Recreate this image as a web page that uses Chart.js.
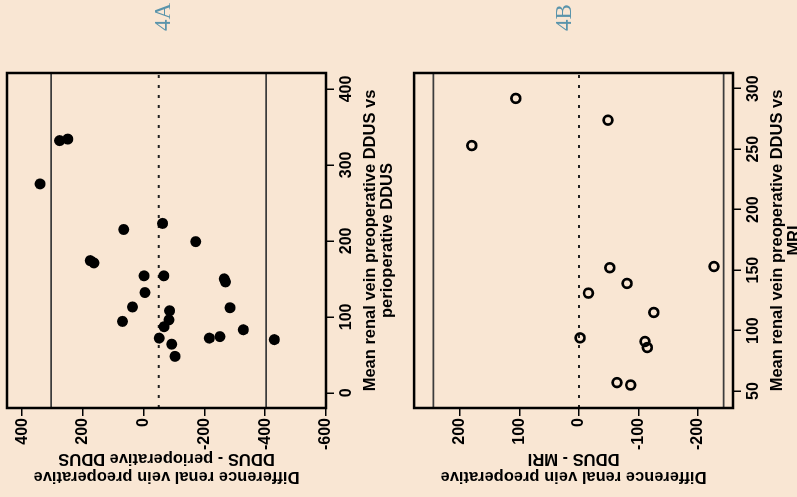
<!DOCTYPE html>
<html>
<head>
<meta charset="utf-8">
<script src="https://cdn.jsdelivr.net/npm/chart.js@4.4.0/dist/chart.umd.min.js"></script>
<style>
  html, body { margin: 0; padding: 0; width: 797px; height: 497px; overflow: hidden; background: #f9e6d3; }
  /* figure is laid out upright, then turned a quarter turn to the left */
  #page {
    position: absolute; left: 0; top: 0; width: 497px; height: 797px; overflow: hidden;
    transform-origin: 0 0; transform: translateY(497px) rotate(-90deg);
  }
  .panel { position: absolute; left: 0; width: 497px; height: 407px; }
  .tag {
    position: absolute; font-family: 'Liberation Serif', 'Times New Roman', serif;
    font-size: 23px; line-height: 26px; color: #5a94ab;
  }
</style>
</head>
<body>
<div id="page">
  <div class="panel" style="top:0"><canvas id="plotA" width="497" height="407"></canvas></div>
  <div class="panel" style="top:407px"><canvas id="plotB" width="497" height="407"></canvas></div>
  <div class="tag" style="left:466px; top:150px">4A</div>
  <div class="tag" style="left:466px; top:551px">4B</div>
</div>
<script>
// 4A: preoperative DDUS vs perioperative DDUS
const meanA = [275, 332, 334, 215, 223, 199, 174, 171, 154, 154, 150, 146, 132,
  113, 112, 108, 94, 96, 87, 83, 72, 72, 74, 70, 64, 48];
const diffA = [341, 277, 250, 66, -62, -171, 176, 164, -1, -66, -265, -269, -4,
  37, -284, -85, 70, -83, -67, -328, -51, -216, -251, -430, -92, -103];
const limitsA = [304.6, -403];
const centerA = -49.2;
const meanTicksA = [0, 100, 200, 300, 400];
const diffTicksA = [400, 200, 0, -200, -400, -600];

// 4B: preoperative DDUS vs MRI
const meanB = [292, 274, 253, 153, 152, 139, 131, 115, 94, 91, 86, 57, 55];
const diffB = [106, -49, 180, -227, -52, -81, -16, -126, -2, -111, -115, -64, -87];
const limitsB = [244.5, -243.3];
const centerB = 0;
const meanTicksB = [50, 100, 150, 200, 250, 300];
const diffTicksB = [200, 100, 0, -100, -200];

Chart.defaults.font.family = "'Liberation Sans', Arial, sans-serif";
Chart.defaults.color = '#000';

const agreementLines = {
  id: 'agreementLines',
  beforeDatasetsDraw(chart, args, opts) {
    const { ctx, chartArea: a, scales: { y } } = chart;
    ctx.save();
    ctx.strokeStyle = '#3c3c3c';
    ctx.lineWidth = 1.8;
    opts.limits.forEach((v) => {
      const py = y.getPixelForValue(v);
      ctx.beginPath();
      ctx.moveTo(a.left, py);
      ctx.lineTo(a.right, py);
      ctx.stroke();
    });
    const pc = y.getPixelForValue(opts.center);
    ctx.strokeStyle = '#222';
    ctx.lineWidth = 2;
    ctx.setLineDash([3, 7]);
    ctx.beginPath();
    ctx.moveTo(a.left, pc);
    ctx.lineTo(a.right, pc);
    ctx.stroke();
    ctx.restore();
  },
  afterDatasetsDraw(chart) {
    const { ctx, chartArea: a } = chart;
    ctx.save();
    ctx.strokeStyle = '#000';
    ctx.lineWidth = 2.5;
    ctx.strokeRect(a.left, a.top, a.right - a.left, a.bottom - a.top);
    ctx.restore();
  },
};

const tickFont = { size: 16, weight: 'bold' };
const titleFont = { size: 16.5, weight: 'bold', lineHeight: 1.05 };

const createPlot = (id, means, diffs, opts) => new Chart(document.getElementById(id), {
  type: 'scatter',
  data: {
    datasets: [{
      data: means.map((m, i) => ({ x: m, y: diffs[i] })),
      pointRadius: opts.radius,
      pointHoverRadius: opts.radius,
      pointBackgroundColor: opts.fill,
      pointBorderColor: '#000',
      pointBorderWidth: opts.border,
    }],
  },
  options: {
    responsive: false,
    animation: false,
    devicePixelRatio: 1,
    layout: { padding: { top: 7, right: 73, left: 0, bottom: 0 } },
    plugins: {
      legend: { display: false },
      tooltip: { enabled: false },
      agreementLines: { limits: opts.limits, center: opts.center },
    },
    scales: {
      x: {
        type: 'linear',
        min: opts.xRange[0],
        max: opts.xRange[1],
        afterFit: (s) => {
          s.height = 81;
          s.paddingLeft = 0;
          s.paddingRight = 0;
        },
        afterBuildTicks: (s) => { s.ticks = opts.xTicks.map((v) => ({ value: v })); },
        grid: { drawOnChartArea: false, tickLength: 8, color: '#000', lineWidth: 1.5 },
        border: { display: false },
        ticks: { font: tickFont, color: '#000', padding: 3, maxRotation: 0, autoSkip: false },
        title: { display: true, text: opts.xTitle, font: titleFont, padding: { top: 0, bottom: 11 } },
      },
      y: {
        type: 'linear',
        min: opts.yRange[0],
        max: opts.yRange[1],
        afterFit: (s) => {
          s.width = 89;
          s.paddingTop = 0;
          s.paddingBottom = 0;
        },
        afterBuildTicks: (s) => { s.ticks = opts.yTicks.map((v) => ({ value: v })); },
        grid: { drawOnChartArea: false, tickLength: 8, color: '#000', lineWidth: 1.5 },
        border: { display: false },
        ticks: { font: tickFont, color: '#000', padding: 2, autoSkip: false },
        title: { display: true, text: opts.yTitle, font: titleFont, padding: { top: 12, bottom: 0 } },
      },
    },
  },
  plugins: [agreementLines],
});

createPlot('plotA', meanA, diffA, {
  xRange: [-20, 421], yRange: [-600, 450],
  xTicks: meanTicksA, yTicks: diffTicksA,
  limits: limitsA, center: centerA,
  radius: 5.5, border: 0, fill: '#000',
  xTitle: ['Mean renal vein preoperative DDUS vs', 'perioperative DDUS'],
  yTitle: ['Difference renal vein preoperative', 'DDUS - perioperative DDUS'],
});

createPlot('plotB', meanB, diffB, {
  xRange: [36, 313], yRange: [-259, 277],
  xTicks: meanTicksB, yTicks: diffTicksB,
  limits: limitsB, center: centerB,
  radius: 4.4, border: 2.7, fill: 'rgba(0,0,0,0)',
  xTitle: ['Mean renal vein preoperative DDUS vs', 'MRI'],
  yTitle: ['Difference renal vein preoperative', 'DDUS - MRI'],
});
</script>
</body>
</html>
